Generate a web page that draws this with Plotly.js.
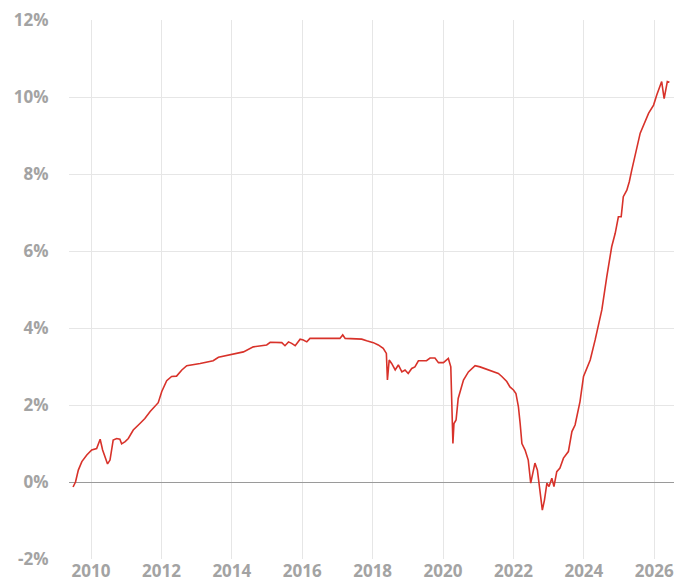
<!DOCTYPE html>
<html>
<head>
<meta charset="utf-8">
<script src="https://cdn.plot.ly/plotly-3.0.1.min.js"></script>
<style>html,body{margin:0;padding:0;background:#fff;}#chart{width:674px;height:587px;}</style>
</head>
<body>
<div id="chart"></div>
<script>
// Decimal years and values (%)
const years = [
  2009.49, 2009.56, 2009.64, 2009.74, 2009.88, 2010.02, 2010.16, 2010.26, 2010.33, 2010.40,
  2010.47, 2010.54, 2010.63, 2010.73, 2010.82, 2010.87, 2010.97, 2011.06, 2011.20, 2011.39,
  2011.53, 2011.68, 2011.87, 2011.91, 2012.01, 2012.15, 2012.29, 2012.43, 2012.58, 2012.72,
  2013.10, 2013.47, 2013.62, 2013.95, 2014.33, 2014.61, 2014.99, 2015.09, 2015.42, 2015.51,
  2015.61, 2015.70, 2015.80, 2015.94, 2016.03, 2016.13, 2016.22, 2017.07, 2017.15, 2017.22,
  2017.69, 2017.83, 2018.02, 2018.16, 2018.30, 2018.39, 2018.42, 2018.47, 2018.54, 2018.64,
  2018.73, 2018.83, 2018.92, 2019.01, 2019.11, 2019.20, 2019.30, 2019.53, 2019.63, 2019.77,
  2019.87, 2020.01, 2020.12, 2020.15, 2020.22, 2020.28, 2020.31, 2020.37, 2020.43, 2020.50,
  2020.58, 2020.72, 2020.91, 2021.05, 2021.24, 2021.43, 2021.57, 2021.67, 2021.81, 2021.90,
  2022.00, 2022.07, 2022.14, 2022.19, 2022.24, 2022.33, 2022.42, 2022.49, 2022.57, 2022.61,
  2022.68, 2022.74, 2022.82, 2022.88, 2022.95, 2023.01, 2023.09, 2023.15, 2023.23, 2023.32,
  2023.42, 2023.56, 2023.66, 2023.75, 2023.89, 2023.99, 2024.08, 2024.18, 2024.32, 2024.51,
  2024.65, 2024.79, 2024.89, 2024.98, 2025.06, 2025.12, 2025.22, 2025.29, 2025.36, 2025.50,
  2025.60, 2025.84, 2025.98, 2026.07, 2026.17, 2026.21, 2026.28, 2026.34, 2026.37, 2026.43
];
const values = [
  -0.13, 0.00, 0.31, 0.53, 0.70, 0.83, 0.87, 1.11, 0.83, 0.66,
  0.47, 0.57, 1.09, 1.13, 1.11, 0.99, 1.05, 1.13, 1.35, 1.52,
  1.65, 1.83, 2.00, 2.06, 2.35, 2.63, 2.74, 2.75, 2.91, 3.02,
  3.08, 3.15, 3.24, 3.30, 3.38, 3.51, 3.56, 3.63, 3.62, 3.54,
  3.64, 3.60, 3.54, 3.71, 3.69, 3.64, 3.73, 3.73, 3.82, 3.73,
  3.71, 3.67, 3.62, 3.56, 3.47, 3.34, 2.65, 3.17, 3.08, 2.91,
  3.04, 2.86, 2.91, 2.82, 2.95, 2.99, 3.15, 3.15, 3.22, 3.22,
  3.10, 3.10, 3.18, 3.21, 2.99, 1.00, 1.52, 1.61, 2.17, 2.39,
  2.65, 2.86, 3.02, 2.99, 2.93, 2.86, 2.82, 2.74, 2.61, 2.47,
  2.39, 2.30, 1.96, 1.52, 1.00, 0.83, 0.57, -0.03, 0.31, 0.49,
  0.31, -0.12, -0.73, -0.47, -0.03, -0.12, 0.10, -0.12, 0.27, 0.36,
  0.62, 0.79, 1.31, 1.48, 2.09, 2.74, 2.95, 3.17, 3.69, 4.47,
  5.33, 6.11, 6.46, 6.89, 6.89, 7.41, 7.58, 7.80, 8.10, 8.62,
  9.06, 9.58, 9.79, 10.05, 10.31, 10.40, 9.96, 10.23, 10.40, 10.38
];
const xTickVals = [2010, 2012, 2014, 2016, 2018, 2020, 2022, 2024, 2026];
const xTickText = ['2010', '2012', '2014', '2016', '2018', '2020', '2022', '2024', '2026'];
const yTickVals = [-2, 0, 2, 4, 6, 8, 10, 12];
const yTickText = ['-2%', '0%', '2%', '4%', '6%', '8%', '10%', '12%'];

const font = {family: '"Open Sans", "Liberation Sans", sans-serif', size: 17, color: '#a3a3a3', weight: 700};

Plotly.newPlot('chart', [{
  x: years, y: values, type: 'scatter', mode: 'lines',
  line: {color: '#d8322a', width: 1.6},
  hoverinfo: 'skip'
}], {
  width: 674, height: 587,
  margin: {l: 69, r: 0, t: 20, b: 28},
  paper_bgcolor: '#ffffff', plot_bgcolor: '#ffffff',
  showlegend: false,
  xaxis: {
    range: [2009.375, 2026.56],
    tickmode: 'array', tickvals: xTickVals, ticktext: xTickText,
    showgrid: true, gridcolor: '#e6e6e6', gridwidth: 1,
    zeroline: false, showline: false,
    ticks: '', ticklabelstandoff: 0,
    ticklabeloverflow: 'allow',
    tickfont: font
  },
  yaxis: {
    range: [-2, 12],
    tickmode: 'array', tickvals: yTickVals, ticktext: yTickText,
    showgrid: true, gridcolor: '#e6e6e6', gridwidth: 1,
    zeroline: true, zerolinecolor: '#9a9a9a', zerolinewidth: 1,
    showline: false,
    ticks: 'outside', ticklen: 16, tickcolor: 'rgba(0,0,0,0)',
    ticklabeloverflow: 'allow',
    tickfont: font
  }
}, {displayModeBar: false, staticPlot: true});
</script>
</body>
</html>
